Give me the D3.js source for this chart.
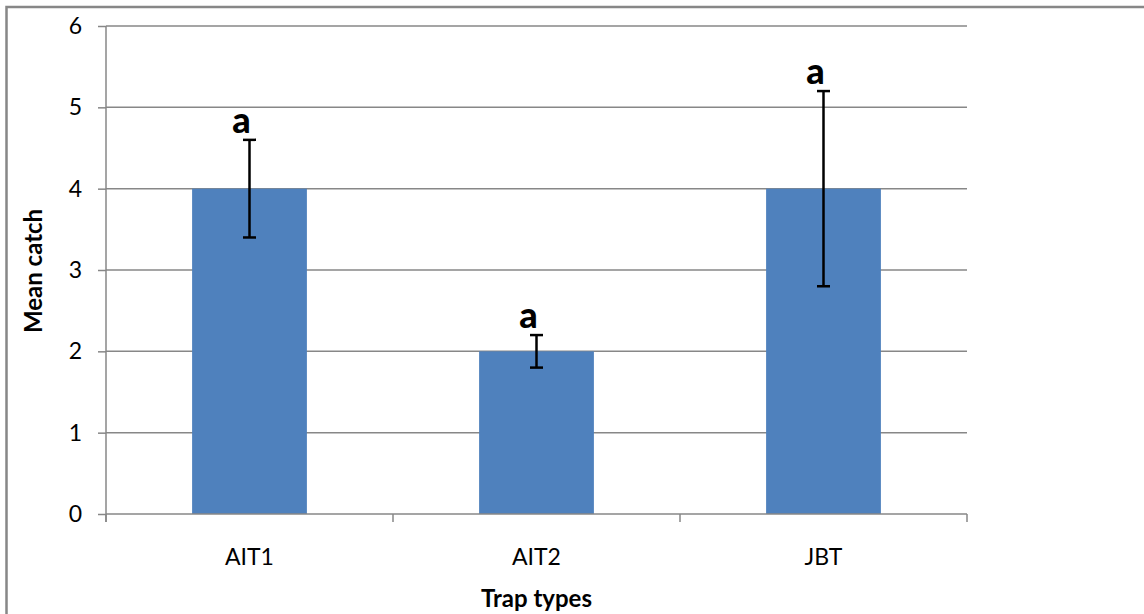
<!DOCTYPE html>
<html>
<head>
<meta charset="utf-8">
<script src="https://cdn.jsdelivr.net/npm/d3@7"></script>
<style>
  html, body { margin: 0; padding: 0; background: #fff; }
  svg { display: block; }
  text { font-family: Lato, "Open Sans", sans-serif; fill: #000; }
</style>
</head>
<body>
<svg id="chart" width="1144" height="614"></svg>
<script>
// Mean catch per trap type, with error-bar bounds and significance letters
const categories = ["AIT1", "AIT2", "JBT"];
const meanCatch = [4, 2, 4];
const errorLow = [3.4, 1.8, 2.8];
const errorHigh = [4.6, 2.2, 5.2];
const sigLetters = ["a", "a", "a"];
const yTicks = [0, 1, 2, 3, 4, 5, 6];

const svg = d3.select("#chart");
const W = 1144, H = 614;
const margin = { left: 106, right: W - 967, top: 26, bottom: H - 514 };
const gridColor = "#878787";

// outer chart frame (runs off the lower/right edge)
svg.append("rect")
  .attr("x", 6.5).attr("y", 7)
  .attr("width", W + 10).attr("height", H + 10)
  .attr("fill", "none").attr("stroke", gridColor).attr("stroke-width", 2.5);

const x = d3.scaleBand()
  .domain(categories)
  .range([margin.left, W - margin.right])
  .paddingInner(0.6).paddingOuter(0.3);

const xOuter = d3.scaleBand()
  .domain(categories)
  .range([margin.left, W - margin.right]);

const y = d3.scaleLinear()
  .domain([0, 6])
  .range([H - margin.bottom, margin.top]);

// horizontal gridlines
svg.append("g")
  .selectAll("line")
  .data(yTicks.filter(d => d > 0))
  .join("line")
  .attr("x1", margin.left).attr("x2", W - margin.right)
  .attr("y1", d => y(d)).attr("y2", d => y(d))
  .attr("stroke", gridColor).attr("stroke-width", 1.5);

// y axis
const yAxis = svg.append("g")
  .attr("transform", `translate(${margin.left},0)`)
  .call(d3.axisLeft(y).tickValues(yTicks).tickSize(8).tickPadding(16).tickFormat(d3.format("d")));
yAxis.select(".domain").attr("stroke", gridColor).attr("stroke-width", 1.5)
  .attr("d", `M0,${y(0) + 8}V${y(6)}`);
yAxis.selectAll(".tick line").attr("stroke", gridColor).attr("stroke-width", 1.5);
yAxis.selectAll(".tick text").style("font-size", "23px").style("font-family", "Lato, sans-serif").attr("fill", "#000");

// bars
svg.append("g")
  .selectAll("rect")
  .data(categories)
  .join("rect")
  .attr("x", d => x(d))
  .attr("width", x.bandwidth())
  .attr("y", (d, i) => y(meanCatch[i]))
  .attr("height", (d, i) => y(0) - y(meanCatch[i]))
  .attr("fill", "#4F81BD");

// x axis with ticks on category boundaries
const xAxisG = svg.append("g").attr("transform", `translate(0,${y(0)})`);
xAxisG.append("line")
  .attr("x1", margin.left).attr("x2", W - margin.right)
  .attr("stroke", gridColor).attr("stroke-width", 1.5);
const boundaries = categories.map(c => xOuter(c)).concat([W - margin.right]);
xAxisG.selectAll("line.b")
  .data(boundaries)
  .join("line").attr("class", "b")
  .attr("x1", d => d).attr("x2", d => d)
  .attr("y1", 0).attr("y2", 8)
  .attr("stroke", gridColor).attr("stroke-width", 1.5);
xAxisG.selectAll("text")
  .data(categories)
  .join("text")
  .attr("x", d => xOuter(d) + xOuter.bandwidth() / 2)
  .attr("y", 51)
  .attr("text-anchor", "middle")
  .style("font-size", "23px")
  .text(d => d);

// error bars
const cap = 6.5;
const eb = svg.append("g").attr("stroke", "#000").attr("stroke-width", 2.5);
categories.forEach((c, i) => {
  const cx = x(c) + x.bandwidth() / 2;
  eb.append("line").attr("x1", cx).attr("x2", cx).attr("y1", y(errorLow[i])).attr("y2", y(errorHigh[i]));
  eb.append("line").attr("x1", cx - cap).attr("x2", cx + cap).attr("y1", y(errorLow[i])).attr("y2", y(errorLow[i]));
  eb.append("line").attr("x1", cx - cap).attr("x2", cx + cap).attr("y1", y(errorHigh[i])).attr("y2", y(errorHigh[i]));
});

// significance letters
svg.append("g")
  .selectAll("text")
  .data(categories)
  .join("text")
  .attr("x", d => x(d) + x.bandwidth() / 2 - 8)
  .attr("y", (d, i) => y(errorHigh[i]) - 7)
  .attr("text-anchor", "middle")
  .style("font-size", "36px").style("font-weight", "900")
  .text((d, i) => sigLetters[i]);

// axis titles
svg.append("text")
  .attr("x", (margin.left + W - margin.right) / 2)
  .attr("y", 607)
  .attr("text-anchor", "middle")
  .style("font-size", "24px").style("font-weight", "bold")
  .text("Trap types");

svg.append("text")
  .attr("transform", `translate(42,${271}) rotate(-90)`)
  .attr("text-anchor", "middle")
  .style("font-size", "24px").style("font-weight", "bold")
  .text("Mean catch");
</script>
</body>
</html>
